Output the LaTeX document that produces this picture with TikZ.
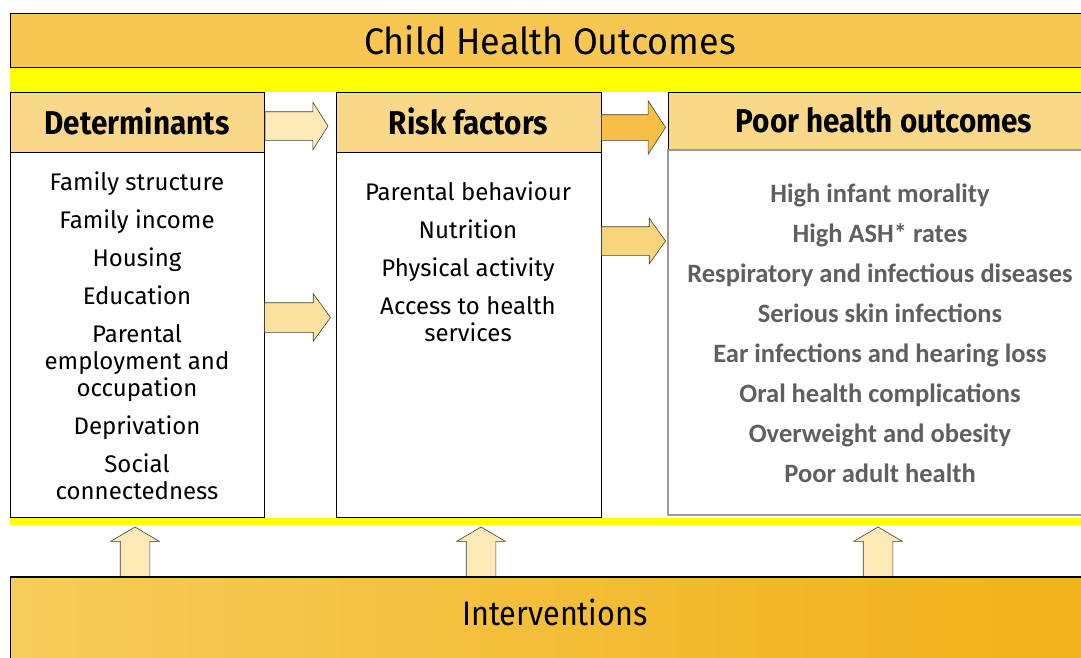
\documentclass[tikz,border=0pt]{standalone}
\usepackage{fontspec}
\setmainfont{Fira Sans}
\newfontfamily\headfont[FakeStretch=0.9]{Fira Sans}
\newfontfamily\titlefont[FakeStretch=0.97]{Fira Sans}
\newfontfamily\outfont{Carlito}
\usetikzlibrary{positioning,shapes.arrows}

\definecolor{banner}{HTML}{F8C752}
\definecolor{headfill}{HTML}{F9D88A}
\definecolor{bandyellow}{HTML}{FFFF00}
\definecolor{arrowpale}{HTML}{FDEAB7}
\definecolor{arrowsoft}{HTML}{FBE2A0}
\definecolor{arrowmid}{HTML}{F8D47A}
\definecolor{arrowdeep}{HTML}{F5C045}
\definecolor{outgray}{HTML}{5F5F5F}
\definecolor{framegray}{HTML}{9A9A9A}
\definecolor{ivA}{HTML}{FDE8AA}
\definecolor{ivB}{HTML}{F7D26A}
\definecolor{ivC}{HTML}{F2B829}
\definecolor{ivD}{HTML}{EEAA00}
\pgfdeclarehorizontalshading{intervshade}{100bp}{color(0bp)=(ivA); color(15bp)=(ivB); color(60bp)=(ivC); color(100bp)=(ivD)}

\begin{document}
\begin{tikzpicture}[x=1pt, y=-1pt,
  every node/.style={inner sep=0pt, outer sep=0pt},
  bar/.style={draw=black, line width=0.9pt, anchor=north west,
    font=\titlefont\fontsize{37}{37}\selectfont},
  headbox/.style={draw=black, line width=0.8pt, fill=headfill, anchor=north west,
    minimum height=60, font=\headfont\bfseries\fontsize{33}{33}\selectfont},
  bodybox/.style={draw=black, line width=0.8pt, fill=white, minimum height=365},
  listtext/.style={align=center, anchor=north, font=\fontsize{24}{27}\selectfont},
  outtext/.style={align=center, anchor=north, text=outgray,
    font=\outfont\bfseries\fontsize{26.5}{40}\selectfont},
  fatarrow/.style={single arrow, draw=black!75, line width=0.6pt, anchor=tail,
    inner xsep=0pt},
  uparrow/.style={fatarrow, fill=arrowpale, rotate=90, inner ysep=14.5pt,
    single arrow head extend=9.5pt, minimum height=50, single arrow tip angle=119},
]
\useasboundingbox (0,0) rectangle (1081,657);

% top banner and yellow bands
\node[bar, fill=banner, minimum width=1080, minimum height=54] (title) at (10,13)
  {Child Health Outcomes};
\fill[bandyellow] (10,67.5) rectangle (1100,92);
\fill[bandyellow] (10,518) rectangle (1100,525);

% the three columns
\node[headbox, minimum width=254] (dethead) at (10,92) {\raisebox{2pt}{Determinants}};
\node[bodybox, minimum width=254, below=0pt of dethead] (detbody) {};

\node[headbox, minimum width=265] (riskhead) at (336,92) {\raisebox{2pt}{Risk factors}};
\node[bodybox, minimum width=265, below=0pt of riskhead] (riskbody) {};

\node[headbox, minimum width=432, minimum height=58] (poorhead) at (668,92)
  {\raisebox{2pt}{Poor health outcomes}};
\node[bodybox, draw=framegray, line width=1.5pt, minimum width=432,
  below=0pt of poorhead] (poorbody) {};

\node[listtext] (detlist) at (137,172) {%
  Family structure\\[11pt] Family income\\[11pt] Housing\\[11pt] Education\\[11pt]
  Parental\\ employment and\\ occupation\\[11pt] Deprivation\\[11pt]
  Social\\ connectedness};

\node[listtext] (risklist) at (468,182) {%
  Parental behaviour\\[11pt] Nutrition\\[11pt] Physical activity\\[11pt]
  Access to health\\ services};

\node[outtext] (poorlist) at (880,184) {%
  High infant morality\\ High ASH* rates\\ Respiratory and infectious diseases\\
  Serious skin infections\\ Ear infections and hearing loss\\
  Oral health complications\\ Overweight and obesity\\ Poor adult health};

% arrows between the columns
\node[fatarrow, fill=arrowpale, inner ysep=14pt, single arrow head extend=9.5pt,
  minimum height=63, single arrow tip angle=115] (detrisk) at (265,126) {};
\node[fatarrow, fill=arrowsoft, inner ysep=14.5pt, single arrow head extend=9pt,
  minimum height=66, single arrow tip angle=108] (detrisklow) at (264.5,317.5) {};
\node[fatarrow, fill=arrowdeep, inner ysep=12.5pt, single arrow head extend=14pt,
  minimum height=64, single arrow tip angle=114] (riskpoor) at (601.5,127.5) {};
\node[fatarrow, fill=arrowmid, inner ysep=14pt, single arrow head extend=8.5pt,
  minimum height=64, single arrow tip angle=109] (riskpoorlow) at (601.5,241) {};

% interventions feeding up into each column
\node[uparrow] (updet) at (135,577) {};
\node[uparrow] (uprisk) at (481,577) {};
\node[uparrow] (uppoor) at (878,577) {};

\node[anchor=north west, shading=intervshade, minimum width=1090, minimum height=100]
  (intervbar) at (10,577) {};
\draw[line width=0.8pt] (intervbar.north west) -- (intervbar.south west);
\draw[line width=2.5pt] (intervbar.north west) -- (intervbar.north east);
\node[font=\headfont\fontsize{34}{34}\selectfont] (interv) at (555,612) {Interventions};
\end{tikzpicture}
\end{document}
